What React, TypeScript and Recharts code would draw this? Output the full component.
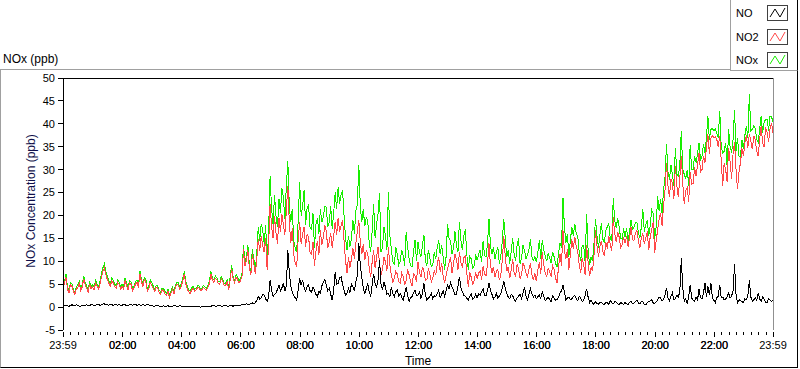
import React from 'react';
import { LineChart, Line, XAxis, YAxis, ReferenceLine, Legend } from 'recharts';

const FONT = '"Liberation Sans", Arial, sans-serif';

// one sample every 3 minutes, t = 0 is 23:59 of the day before (one row per hour)
const stepMin = 3;

const no2Values = [
  4.2, 5.1, 6.5, 4.0, 3.0, 4.9, 4.6, 3.5, 2.8, 3.9, 4.3, 5.2, 3.6, 4.4, 6.2, 4.8, 4.1, 3.3, 5.0, 4.0,
  4.4, 3.8, 5.2, 4.6, 3.9, 5.0, 6.6, 7.8, 8.6, 7.0, 6.0, 5.2, 4.6, 5.8, 5.3, 4.4, 4.1, 5.4, 4.9, 3.9,
  4.6, 4.0, 5.8, 4.7, 3.8, 5.3, 4.9, 3.6, 4.1, 5.0, 5.4, 4.2, 7.2, 5.6, 4.5, 6.0, 5.6, 3.5, 4.0, 5.4,
  4.8, 4.1, 3.4, 4.4, 4.2, 3.2, 2.8, 3.8, 3.6, 2.9, 2.5, 3.4, 2.1, 3.0, 3.8, 2.9, 4.3, 4.9, 4.8, 3.9,
  4.6, 5.8, 7.2, 5.1, 4.0, 3.3, 2.9, 3.8, 4.1, 3.5, 3.7, 4.3, 4.2, 3.6, 3.8, 4.3, 4.0, 3.7, 4.3, 5.2,
  7.2, 5.9, 5.4, 6.3, 6.0, 5.1, 5.0, 6.2, 5.6, 4.7, 4.8, 5.5, 3.7, 5.9, 8.4, 6.2, 5.3, 6.6, 6.0, 5.2,
  5.8, 6.6, 12.6, 9.0, 10.2, 12.4, 8.4, 7.0, 11.5, 9.6, 7.2, 10.4, 14.8, 12.2, 15.6, 13.4, 12.0, 15.0, 8.2, 13.5,
  22.4, 17.6, 15.0, 19.8, 16.2, 13.8, 19.5, 16.5, 20.2, 18.0, 15.8, 21.2, 26.5, 18.4, 14.0, 17.2, 11.5, 9.5, 8.8, 14.8,
  18.5, 13.8, 16.0, 17.5, 13.2, 15.8, 15.4, 12.0, 11.5, 14.2, 9.0, 12.2, 14.5, 11.4, 16.8, 13.5, 15.2, 17.8, 16.6, 12.8,
  14.2, 16.2, 13.0, 15.5, 18.6, 15.8, 19.5, 16.4, 17.8, 19.0, 14.5, 10.2, 7.5, 11.0, 8.6, 10.5, 12.8, 10.6, 14.0, 16.5,
  19.0, 14.0, 11.5, 13.8, 10.2, 12.4, 11.8, 8.5, 6.5, 9.8, 12.5, 8.6, 10.8, 13.2, 9.5, 7.0, 8.2, 11.0, 9.8, 8.0,
  13.0, 9.2, 7.0, 5.4, 6.4, 7.8, 7.2, 5.6, 5.2, 7.4, 6.6, 4.8, 5.8, 8.2, 7.0, 5.4, 4.6, 7.3, 6.8, 5.6,
  9.8, 7.6, 6.5, 8.8, 7.8, 5.9, 6.0, 8.4, 7.2, 5.5, 6.3, 8.0, 7.0, 9.2, 11.0, 7.6, 9.5, 6.8, 5.2, 7.0,
  8.5, 9.6, 11.0, 7.4, 9.5, 11.5, 10.5, 8.2, 12.0, 9.6, 8.8, 10.8, 11.2, 7.5, 4.4, 7.6, 6.5, 4.8, 5.8, 7.6,
  6.2, 7.4, 8.0, 6.0, 9.0, 7.2, 6.8, 9.5, 13.9, 9.0, 7.5, 8.8, 6.6, 7.8, 8.2, 5.9, 7.0, 10.2, 15.5, 11.0,
  7.8, 8.8, 6.3, 8.0, 10.5, 7.4, 6.8, 9.4, 8.2, 6.2, 7.0, 9.6, 8.8, 7.4, 6.6, 8.2, 9.5, 7.0, 5.9, 7.4,
  5.6, 8.0, 9.8, 7.2, 12.0, 9.2, 7.5, 6.6, 8.6, 7.6, 6.8, 9.0, 8.2, 6.4, 5.2, 8.8, 11.5, 9.0, 16.8, 12.4,
  10.5, 12.6, 8.2, 11.5, 14.8, 12.6, 15.3, 13.2, 12.0, 9.2, 7.5, 10.8, 9.2, 7.0, 13.5, 9.8, 6.8, 8.6, 7.8, 11.4,
  16.8, 13.4, 11.0, 13.2, 14.5, 12.0, 11.2, 14.2, 12.8, 15.6, 13.5, 12.2, 19.7, 16.0, 14.2, 16.4, 15.3, 13.0, 13.6, 15.2,
  14.0, 15.5, 13.2, 15.0, 17.5, 14.8, 14.5, 16.2, 16.8, 14.4, 13.0, 15.2, 16.0, 13.8, 15.0, 16.5, 12.4, 15.4, 17.0, 18.6,
  11.9, 14.5, 16.8, 19.2, 20.5, 17.8, 22.0, 25.5, 31.5, 26.5, 24.0, 28.0, 27.0, 23.6, 30.8, 26.5, 24.0, 28.2, 33.0, 27.0,
  22.5, 25.4, 26.0, 23.0, 29.5, 26.8, 27.0, 30.5, 28.6, 31.0, 33.7, 29.5, 30.0, 33.0, 31.5, 34.8, 37.7, 33.5, 36.8, 37.4,
  37.0, 37.2, 36.6, 35.0, 37.3, 32.0, 26.4, 31.5, 30.0, 27.4, 34.8, 31.8, 27.9, 33.5, 36.0, 30.2, 25.7, 29.5, 31.5, 34.6,
  33.0, 35.8, 37.5, 34.8, 37.8, 36.2, 34.5, 37.4, 36.6, 34.0, 32.9, 36.8, 39.5, 35.8, 35.0, 39.2, 38.2, 36.0, 39.0, 40.2,
  38.0,
];

const noxValues = [
  4.8, 5.6, 7.3, 4.5, 3.4, 5.4, 5.1, 3.9, 3.2, 4.4, 4.8, 5.7, 4.0, 4.9, 6.8, 5.3, 4.6, 3.8, 5.6, 4.5,
  4.9, 4.3, 5.8, 5.1, 4.3, 5.6, 7.4, 8.6, 9.4, 7.7, 6.8, 5.8, 5.1, 6.3, 5.9, 4.9, 4.7, 5.9, 5.4, 4.4,
  5.0, 4.5, 6.4, 5.2, 4.3, 5.8, 5.4, 4.1, 4.6, 5.5, 5.9, 4.7, 7.9, 6.2, 5.0, 6.5, 6.1, 4.0, 4.6, 5.9,
  5.3, 4.6, 3.9, 4.8, 4.6, 3.7, 3.3, 4.2, 4.0, 3.4, 3.0, 3.9, 2.6, 3.5, 4.3, 3.4, 4.8, 5.4, 5.3, 4.4,
  5.1, 6.4, 7.8, 5.6, 4.6, 3.8, 3.4, 4.2, 4.5, 3.9, 4.1, 4.7, 4.6, 4.0, 4.2, 4.7, 4.4, 4.1, 4.7, 5.7,
  7.8, 6.4, 5.9, 6.8, 6.4, 5.6, 5.5, 6.7, 6.0, 5.2, 5.2, 6.0, 4.2, 6.5, 9.1, 6.7, 5.8, 7.1, 6.5, 5.7,
  6.3, 7.2, 13.6, 9.8, 11.0, 13.5, 9.2, 7.8, 12.6, 10.6, 7.9, 11.8, 17.5, 14.5, 18.2, 16.8, 13.8, 18.0, 9.4, 16.5,
  28.6, 21.5, 18.2, 24.5, 19.8, 17.5, 23.6, 20.5, 26.0, 23.8, 19.2, 26.5, 31.8, 22.0, 18.5, 21.5, 14.5, 12.8, 12.0, 19.0,
  27.2, 20.0, 22.0, 25.5, 18.0, 21.5, 22.4, 17.5, 17.0, 20.5, 13.0, 18.0, 19.5, 16.0, 21.5, 18.5, 19.8, 22.0, 21.8, 17.6,
  18.5, 22.0, 17.0, 20.5, 25.0, 21.5, 26.2, 22.5, 24.6, 25.5, 20.0, 15.0, 12.5, 15.5, 13.2, 15.0, 19.0, 16.0, 21.0, 22.5,
  31.0, 22.0, 18.5, 21.5, 17.6, 19.5, 19.0, 14.0, 12.0, 16.5, 22.6, 15.0, 18.0, 20.5, 24.8, 12.0, 13.0, 17.5, 15.6, 12.5,
  25.2, 15.5, 12.5, 10.0, 9.2, 13.0, 11.5, 9.2, 10.0, 12.5, 11.2, 9.0, 16.4, 13.0, 10.6, 9.0, 8.8, 12.2, 14.6, 10.0,
  14.2, 12.0, 11.0, 13.5, 15.8, 10.0, 9.0, 12.5, 10.8, 8.8, 9.2, 12.0, 10.5, 13.0, 14.6, 11.5, 13.5, 11.0, 8.2, 11.0,
  18.1, 15.0, 14.5, 11.5, 12.8, 16.5, 13.5, 12.0, 18.6, 14.5, 12.4, 15.5, 17.0, 11.5, 8.2, 11.0, 10.5, 8.5, 9.0, 11.5,
  10.2, 11.5, 12.4, 9.8, 14.5, 11.2, 11.0, 14.0, 19.2, 13.5, 11.5, 13.0, 10.5, 12.0, 13.0, 9.5, 11.2, 14.5, 19.2, 15.0,
  11.0, 12.5, 9.5, 12.0, 15.0, 11.5, 10.0, 13.5, 15.0, 9.5, 10.8, 13.5, 12.4, 10.5, 11.5, 12.5, 14.8, 11.0, 10.2, 11.0,
  9.8, 11.8, 14.6, 10.5, 14.6, 12.5, 11.2, 10.0, 11.7, 10.8, 9.6, 12.0, 11.0, 9.5, 8.8, 11.8, 14.0, 13.0, 23.9, 17.5,
  14.0, 16.0, 11.0, 14.5, 17.5, 15.5, 18.2, 16.0, 15.5, 12.0, 10.0, 13.5, 13.5, 9.8, 20.4, 12.5, 9.2, 11.0, 10.0, 14.0,
  19.3, 15.5, 13.0, 15.8, 18.3, 14.8, 14.0, 16.8, 17.5, 18.2, 15.0, 14.5, 23.7, 19.0, 17.2, 19.5, 17.5, 15.0, 14.8, 17.2,
  15.3, 17.2, 14.5, 16.5, 19.0, 17.0, 17.5, 18.5, 18.5, 16.2, 15.0, 17.5, 21.4, 16.5, 18.0, 19.0, 15.5, 17.8, 21.2, 20.5,
  14.8, 17.5, 24.2, 21.0, 23.5, 20.5, 25.5, 28.5, 35.5, 29.5, 27.8, 31.0, 29.0, 26.5, 34.8, 29.0, 28.6, 31.0, 38.4, 30.0,
  29.0, 28.0, 30.0, 26.5, 35.3, 30.0, 30.0, 33.0, 31.5, 33.5, 35.9, 32.0, 33.0, 35.5, 33.7, 37.0, 41.7, 36.5, 38.8, 39.0,
  38.5, 38.8, 38.0, 37.0, 42.9, 35.0, 33.7, 34.0, 35.9, 30.5, 38.8, 35.0, 33.7, 36.5, 43.1, 34.0, 37.0, 33.0, 32.9, 36.5,
  34.5, 37.5, 39.5, 37.0, 46.4, 38.5, 38.8, 39.5, 39.0, 36.5, 36.0, 39.0, 41.7, 38.0, 40.3, 41.0, 41.0, 38.5, 41.7, 41.5,
  40.5,
];

const noValues = [
  0.3, 0.4, 0.4, 0.3, 0.2, 0.3, 0.5, 0.4, 0.3, 0.5, 0.4, 0.2, 0.2, 0.4, 0.3, 0.4, 0.5, 0.3, 0.4, 0.5,
  0.5, 0.3, 0.4, 0.6, 0.6, 0.4, 0.5, 0.7, 0.7, 0.5, 0.5, 0.4, 0.6, 0.5, 0.4, 0.6, 0.5, 0.4, 0.6, 0.4,
  0.4, 0.6, 0.5, 0.3, 0.4, 0.5, 0.6, 0.4, 0.5, 0.6, 0.4, 0.5, 0.5, 0.3, 0.6, 0.4, 0.4, 0.6, 0.5, 0.3,
  0.3, 0.2, 0.2, 0.4, 0.3, 0.2, 0.1, 0.2, 0.3, 0.1, 0.2, 0.3, 0.1, 0.2, 0.2, 0.3, 0.3, 0.1, 0.2, 0.3,
  0.2, 0.1, 0.1, 0.2, 0.2, 0.1, 0.1, 0.2, 0.2, 0.1, 0.0, 0.2, 0.1, 0.0, 0.2, 0.1, 0.1, 0.2, 0.2, 0.1,
  0.2, 0.3, 0.3, 0.2, 0.2, 0.3, 0.3, 0.2, 0.2, 0.3, 0.3, 0.2, 0.2, 0.3, 0.3, 0.2, 0.4, 0.3, 0.3, 0.4,
  0.4, 0.5, 0.6, 0.5, 0.7, 0.6, 0.6, 0.8, 0.9, 0.7, 1.0, 1.4, 2.4, 1.8, 2.0, 2.8, 2.6, 1.8, 1.3, 2.2,
  5.8, 3.8, 2.3, 2.8, 3.0, 3.9, 4.8, 3.6, 4.2, 5.2, 3.5, 4.6, 12.4, 7.5, 4.5, 3.2, 2.5, 2.0, 1.5, 3.8,
  6.3, 4.8, 5.9, 4.2, 3.5, 4.5, 4.8, 3.6, 3.2, 4.4, 3.7, 2.8, 2.3, 3.4, 3.0, 4.6, 5.5, 6.0, 4.9, 3.6,
  4.1, 2.8, 1.5, 3.6, 7.7, 5.0, 5.2, 6.4, 6.6, 5.0, 3.7, 2.6, 3.0, 4.0, 3.2, 5.0, 4.4, 3.5, 5.5, 6.8,
  14.0, 9.0, 6.5, 4.2, 3.0, 4.0, 5.2, 3.4, 2.3, 4.8, 7.3, 5.2, 4.4, 6.0, 10.3, 5.0, 3.7, 5.4, 4.4, 2.8,
  3.0, 2.2, 4.4, 3.0, 2.3, 3.4, 3.7, 2.4, 3.0, 2.2, 1.5, 3.0, 4.4, 2.6, 1.2, 2.0, 2.3, 3.2, 3.7, 2.5,
  2.6, 3.3, 1.9, 3.0, 5.2, 2.6, 1.5, 2.0, 2.3, 3.0, 1.8, 2.5, 2.2, 3.0, 3.7, 2.0, 2.8, 3.5, 2.4, 3.6,
  4.8, 4.0, 5.3, 4.4, 3.7, 2.6, 2.8, 4.5, 6.6, 4.2, 3.3, 2.6, 2.4, 1.9, 1.6, 2.4, 2.8, 1.8, 2.0, 2.8,
  2.0, 2.9, 2.6, 3.3, 4.0, 2.6, 2.4, 3.7, 5.3, 3.6, 2.8, 1.8, 2.2, 3.0, 1.9, 2.4, 3.0, 4.2, 5.7, 4.2,
  3.0, 2.2, 1.8, 2.8, 2.5, 1.7, 1.3, 2.0, 2.4, 2.8, 1.9, 3.0, 4.4, 2.5, 1.6, 2.8, 4.0, 3.0, 2.2, 2.6,
  1.8, 2.3, 2.6, 1.9, 3.3, 2.4, 1.4, 1.8, 2.2, 1.6, 1.2, 2.4, 2.0, 1.5, 1.6, 2.2, 3.0, 3.6, 4.8, 3.2,
  1.5, 2.0, 2.2, 1.6, 1.8, 2.3, 2.6, 1.8, 1.4, 2.4, 2.0, 1.2, 1.5, 2.6, 4.0, 2.2, 1.0, 1.5, 0.8, 0.6,
  1.2, 0.8, 0.6, 1.0, 1.0, 0.7, 0.5, 1.1, 0.9, 0.6, 1.4, 1.0, 0.7, 1.2, 1.1, 0.7, 0.5, 1.0, 0.8, 0.6,
  1.0, 0.7, 0.6, 1.0, 1.3, 0.8, 0.9, 1.2, 1.5, 0.9, 0.7, 1.3, 1.1, 0.6, 0.5, 1.0, 1.2, 1.4, 1.6, 0.9,
  0.8, 1.2, 1.5, 2.2, 2.0, 1.3, 1.6, 2.6, 4.2, 2.0, 1.4, 2.4, 3.1, 1.6, 1.8, 2.6, 2.2, 3.4, 10.6, 4.2,
  1.2, 1.8, 0.8, 2.2, 4.9, 2.0, 1.5, 1.2, 2.2, 1.6, 3.9, 2.0, 1.8, 3.0, 5.3, 2.2, 4.6, 2.6, 5.3, 2.0,
  1.5, 1.0, 2.0, 2.4, 4.9, 2.0, 2.2, 1.6, 1.8, 2.2, 3.1, 2.0, 2.4, 3.6, 9.3, 2.8, 1.0, 1.6, 1.4, 1.2,
  1.0, 1.8, 1.6, 2.4, 5.9, 2.2, 1.3, 1.6, 2.0, 1.4, 3.1, 1.8, 1.2, 2.2, 1.8, 1.0, 1.0, 1.8, 1.6, 1.2,
  1.5,
];

// x axis: minutes since 23:59
const majorTicks = [0, 121, 241, 361, 481, 601, 721, 841, 961, 1081, 1201, 1321, 1440];
const majorLabels = ['23:59', '02:00', '04:00', '06:00', '08:00', '10:00', '12:00', '14:00', '16:00', '18:00', '20:00', '22:00', '23:59'];
const minorTicks = Array.from({ length: 95 }, (_, k) => 16 + 15 * k);
const xTicks = [...majorTicks, ...minorTicks].sort((a, b) => a - b);

const yTicks = [-5, 0, 5, 10, 15, 20, 25, 30, 35, 40, 45, 50];

const seriesColors = { NO: '#000000', NO2: '#ff4848', NOx: '#18ee00' };
const legendItems = ['NO', 'NO2', 'NOx'];

const chartData = noValues.map((v, i) => ({
  t: i * stepMin,
  NO: v,
  NO2: no2Values[i],
  NOx: noxValues[i],
}));

const TimeTick = (props: any) => {
  const { x, y, payload } = props;
  const idx = majorTicks.indexOf(payload.value);
  const major = idx >= 0;
  return (
    <g>
      <line x1={x} x2={x} y1={y + 2} y2={y + (major ? 7 : 5)} stroke="#000" strokeWidth={1} shapeRendering="crispEdges" />
      {major && (
        <text x={x} y={y + 19} textAnchor="middle" fontSize={11} fontFamily={FONT} fill="#000">
          {majorLabels[idx]}
        </text>
      )}
    </g>
  );
};

const LegendBox = () => (
  <div
    style={{
      width: 66,
      height: 70,
      background: '#fff',
      borderLeft: '1px solid #a0a0a0',
      borderBottom: '1px solid #a0a0a0',
      borderRight: '1px solid #000',
      fontFamily: FONT,
      fontSize: 11,
      color: '#000',
      position: 'relative',
    }}
  >
    {legendItems.map((name, i) => (
      <div key={name} style={{ position: 'absolute', left: 5, top: 5 + i * 23.5, height: 16, display: 'flex', alignItems: 'center' }}>
        <span style={{ width: 31 }}>{name}</span>
        <svg width={21} height={16} style={{ display: 'block' }}>
          <rect x={0.5} y={0.5} width={20} height={15} fill="#fff" stroke="#404040" />
          <polyline points="3,12 8,4 13,12 18,3" fill="none" stroke={(seriesColors as any)[name]} strokeWidth={1} />
        </svg>
      </div>
    ))}
  </div>
);

const App = () => {
  return (
    <div style={{ position: 'absolute', left: 0, top: 0, width: 800, height: 369, background: '#fff' }}>
      <div
        style={{
          position: 'absolute',
          left: 0,
          top: 69,
          width: 796,
          height: 297,
          borderTop: '1px solid #a0a0a0',
          borderLeft: '1px solid #a0a0a0',
          borderRight: '1px solid #000',
          borderBottom: '1px solid #000',
        }}
      />
      <div style={{ position: 'absolute', left: 3, top: 52, fontFamily: FONT, fontSize: 12, color: '#000' }}>NOx (ppb)</div>
      <div style={{ position: 'absolute', left: 0, top: 0 }}>
        <LineChart width={800} height={369} data={chartData} margin={{ top: 78, right: 27, bottom: 0, left: 0 }}>
          <XAxis
            dataKey="t"
            type="number"
            domain={[0, 1440]}
            ticks={xTicks}
            interval={0}
            tick={<TimeTick />}
            tickLine={false}
            axisLine={false}
            tickSize={0}
            tickMargin={0}
            height={39}
            label={{ value: 'Time', position: 'insideBottom', offset: 4, fontSize: 12, fontFamily: FONT, fill: '#000' }}
          />
          <YAxis
            type="number"
            domain={[-5, 50]}
            ticks={yTicks}
            interval={0}
            width={63}
            tickSize={5}
            tickMargin={3}
            axisLine={{ stroke: '#000', shapeRendering: 'crispEdges' }}
            tickLine={{ stroke: '#000', shapeRendering: 'crispEdges' }}
            tick={{ fontSize: 11, fontFamily: FONT, fill: '#000' }}
            label={{ value: 'NOx Concentration (ppb)', angle: -90, position: 'center', dx: -1, dy: -3, fontSize: 12, fontFamily: FONT, fill: '#10104a' }}
          />
          <ReferenceLine y={50} stroke="#000" shapeRendering="crispEdges" />
          <ReferenceLine x={1440} stroke="#909090" shapeRendering="crispEdges" />
          <Legend
            content={<LegendBox />}
            layout="horizontal"
            verticalAlign="middle"
            align="center"
            wrapperStyle={{ position: 'absolute', left: 730, top: 0, width: 68, height: 72 }}
          />
          <Line type="linear" dataKey="NOx" stroke={seriesColors.NOx} strokeWidth={1} dot={false} isAnimationActive={false} shapeRendering="crispEdges" />
          <Line type="linear" dataKey="NO2" stroke={seriesColors.NO2} strokeWidth={1} dot={false} isAnimationActive={false} shapeRendering="crispEdges" />
          <Line type="linear" dataKey="NO" stroke={seriesColors.NO} strokeWidth={1} dot={false} isAnimationActive={false} shapeRendering="crispEdges" />
        </LineChart>
      </div>
    </div>
  );
};

export default App;
